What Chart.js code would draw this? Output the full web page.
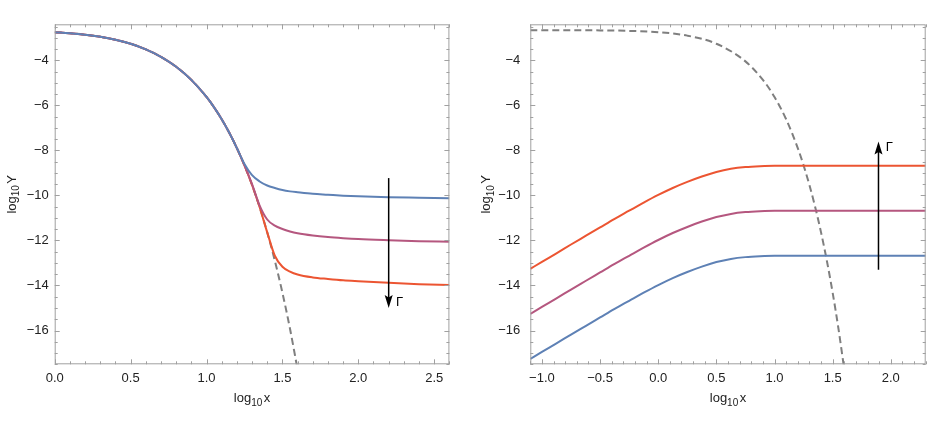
<!DOCTYPE html>
<html>
<head>
<meta charset="utf-8">
<script src="https://cdn.jsdelivr.net/npm/chart.js@4.4.0/dist/chart.umd.min.js"></script>
<style>
html, body { margin: 0; padding: 0; background: #fff; }
#wrap { width: 944px; height: 423px; display: flex; }
.box { width: 472px; height: 423px; }
</style>
</head>
<body>
<div id="wrap">
  <div class="box"><canvas id="left" width="472" height="423"></canvas></div>
  <div class="box"><canvas id="right" width="472" height="423"></canvas></div>
</div>
<script>
// ---- left panel: log10 x vs log10 Y ----
var leftX = [0, 0.1, 0.2, 0.3, 0.4, 0.5, 0.6, 0.7, 0.8, 0.9, 1.0, 1.05, 1.1, 1.15, 1.2, 1.25,
             1.3, 1.35, 1.4, 1.45, 1.5, 1.55, 1.6, 1.7, 1.8, 1.9, 2.0, 2.2, 2.4, 2.6];
var leftEq = [-2.750, -2.795, -2.860, -2.953, -3.084, -3.264, -3.511, -3.842, -4.284, -4.867,
              -5.628, -6.091, -6.618, -7.217, -7.896, -8.665, -9.538, -10.525, -11.640,
              -12.900, -14.321, -15.924, -17.732];
var leftBlue = [-2.750, -2.795, -2.860, -2.953, -3.084, -3.264, -3.511, -3.842, -4.284, -4.867,
                -5.628, -6.091, -6.618, -7.217, -7.896, -8.60, -9.10, -9.38, -9.56, -9.67,
                -9.76, -9.82, -9.86, -9.93, -9.97, -10.01, -10.04, -10.08, -10.10, -10.12];
var leftPurple = [-2.750, -2.795, -2.860, -2.953, -3.084, -3.264, -3.511, -3.842, -4.284, -4.867,
                  -5.628, -6.091, -6.618, -7.217, -7.896, -8.665, -9.50, -10.45, -11.07, -11.34,
                  -11.49, -11.60, -11.68, -11.78, -11.85, -11.90, -11.94, -11.99, -12.03, -12.06];
var leftRed = [-2.750, -2.795, -2.860, -2.953, -3.084, -3.264, -3.511, -3.842, -4.284, -4.867,
               -5.628, -6.091, -6.618, -7.217, -7.896, -8.665, -9.538, -10.525, -11.640, -12.68,
               -13.17, -13.38, -13.51, -13.64, -13.71, -13.77, -13.81, -13.88, -13.94, -13.98];

// ---- right panel ----
var rightX = [-1.1, -1.0, -0.875, -0.75, -0.625, -0.5, -0.375, -0.25, -0.125, 0, 0.125, 0.25,
              0.375, 0.5, 0.625, 0.75, 0.875, 1.0, 1.25, 1.5, 2.0, 2.3];
var rightBlue = [-17.26, -16.95, -16.57, -16.18, -15.80, -15.42, -15.04, -14.68, -14.32, -13.98,
                 -13.67, -13.40, -13.16, -12.96, -12.82, -12.74, -12.70, -12.68, -12.68, -12.68,
                 -12.68, -12.68];
var rightPurple = [-15.26, -14.95, -14.57, -14.18, -13.80, -13.42, -13.04, -12.68, -12.32, -11.98,
                   -11.67, -11.40, -11.16, -10.96, -10.82, -10.74, -10.70, -10.68, -10.68, -10.68,
                   -10.68, -10.68];
var rightRed = [-13.26, -12.95, -12.57, -12.18, -11.80, -11.42, -11.04, -10.68, -10.32, -9.98,
                -9.67, -9.40, -9.16, -8.96, -8.82, -8.74, -8.70, -8.68, -8.68, -8.68,
                -8.68, -8.68];
var rightEqX = [-1.1, -0.75, -0.5, -0.25, 0, 0.25, 0.5, 0.75, 0.9, 1.0, 1.1, 1.2, 1.25, 1.3,
                1.35, 1.4, 1.45, 1.5, 1.55, 1.6];
var rightEq = [-2.661, -2.663, -2.670, -2.692, -2.750, -2.903, -3.264, -4.047, -4.867, -5.628,
               -6.618, -7.896, -8.665, -9.538, -10.525, -11.640, -12.900, -14.321, -15.924, -17.732];

// arrows with the Gamma label (data coordinates)
var leftArrow = { x: 2.2, from: -9.23, to: -15.0, labelX: 2.248, labelY: -14.73 };
var rightArrow = { x: 1.894, from: -13.3, to: -7.61, labelX: 1.957, labelY: -7.85 };

var BLUE = '#5e81b5', PURPLE = '#b5577f', RED = '#ec5532', GREY = '#7f7f7f';
var FONT = '"Liberation Sans", Arial, "DejaVu Sans", sans-serif';

function pts(xs, ys) {
  return ys.map(function (y, i) { return { x: xs[i], y: y }; });
}
function minus(v, digits) {
  var s = digits ? Math.abs(v).toFixed(digits) : String(Math.abs(v));
  return (v < -1e-9 ? '\u2212' : '') + s;
}
function stepValues(min, max, step) {
  var out = [];
  for (var k = Math.ceil(min / step - 1e-9); k * step <= max + 1e-9; k++) out.push(k * step);
  return out;
}

var framePlugin = {
  id: 'frame',
  afterDatasetsDraw: function (chart) {
    var ctx = chart.ctx, a = chart.chartArea, xs = chart.scales.x, ys = chart.scales.y;
    ctx.save();
    ctx.strokeStyle = '#a0a0a0';
    ctx.lineWidth = 1;
    ctx.strokeRect(a.left + 0.5, a.top + 0.5, a.right - a.left - 1, a.bottom - a.top - 1);
    ctx.beginPath();
    stepValues(xs.min, xs.max, 0.1).forEach(function (v) {
      var p = Math.round(xs.getPixelForValue(v)) + 0.5;
      var len = Math.abs(v / 0.5 - Math.round(v / 0.5)) < 1e-6 ? 5 : 3;
      ctx.moveTo(p, a.bottom); ctx.lineTo(p, a.bottom - len);
      ctx.moveTo(p, a.top); ctx.lineTo(p, a.top + len);
    });
    stepValues(ys.min, ys.max, 0.5).forEach(function (v) {
      var p = Math.round(ys.getPixelForValue(v)) + 0.5;
      var len = Math.abs(v / 2 - Math.round(v / 2)) < 1e-6 ? 5 : 3;
      ctx.moveTo(a.left, p); ctx.lineTo(a.left + len, p);
      ctx.moveTo(a.right, p); ctx.lineTo(a.right - len, p);
    });
    ctx.stroke();
    ctx.restore();
  }
};

var arrowPlugin = {
  id: 'gammaArrow',
  afterDatasetsDraw: function (chart, args, o) {
    if (!o || o.x === undefined) return;
    var ctx = chart.ctx, xs = chart.scales.x, ys = chart.scales.y;
    var px = xs.getPixelForValue(o.x);
    var p0 = ys.getPixelForValue(o.from), p1 = ys.getPixelForValue(o.to);
    var dir = p1 > p0 ? 1 : -1, head = 13, half = 4;
    ctx.save();
    ctx.strokeStyle = '#000';
    ctx.fillStyle = '#000';
    ctx.lineWidth = 1.5;
    ctx.beginPath();
    ctx.moveTo(px, p0);
    ctx.lineTo(px, p1 - dir * head * 0.7);
    ctx.stroke();
    ctx.beginPath();
    ctx.moveTo(px, p1);
    ctx.lineTo(px - half, p1 - dir * head);
    ctx.lineTo(px, p1 - dir * head * 0.8);
    ctx.lineTo(px + half, p1 - dir * head);
    ctx.closePath();
    ctx.fill();
    ctx.font = '13px ' + FONT;
    ctx.textAlign = 'left';
    ctx.textBaseline = 'middle';
    ctx.fillText('\u0393', xs.getPixelForValue(o.labelX), ys.getPixelForValue(o.labelY));
    ctx.restore();
  }
};

// "log" + subscript "10" + variable, centred on (cx, base) along the baseline
function logLabel(ctx, cx, base, rot, variable) {
  var big = '13px ' + FONT, small = '10px ' + FONT;
  ctx.save();
  ctx.translate(cx, base);
  ctx.rotate(rot);
  ctx.fillStyle = '#222';
  ctx.textBaseline = 'alphabetic';
  ctx.textAlign = 'left';
  ctx.font = big; var w1 = ctx.measureText('log').width, w3 = ctx.measureText(variable).width;
  ctx.font = small; var w2 = ctx.measureText('10').width;
  var x = -(w1 + w2 + 1.5 + w3) / 2;
  ctx.font = big; ctx.fillText('log', x, 0);
  ctx.font = small; ctx.fillText('10', x + w1, 3.5);
  ctx.font = big; ctx.fillText(variable, x + w1 + w2 + 1.5, 0);
  ctx.restore();
}

var titlePlugin = {
  id: 'axisTitles',
  afterDraw: function (chart, args, o) {
    var a = chart.chartArea;
    logLabel(chart.ctx, (a.left + a.right) / 2, 402, 0, 'x');
    logLabel(chart.ctx, o.yBase, (a.top + a.bottom) / 2, -Math.PI / 2, 'Y');
  }
};

function makeChart(id, datasets, xMin, xMax, yWidth, padRight, yBase, yTickPad, arrow) {
  return new Chart(document.getElementById(id), {
    type: 'line',
    data: { datasets: datasets },
    options: {
      responsive: false,
      animation: false,
      events: [],
      layout: { padding: { left: 0, right: padRight, top: 24.3, bottom: 0 } },
      elements: { point: { radius: 0 }, line: { cubicInterpolationMode: 'monotone', borderWidth: 2 } },
      plugins: { legend: { display: false }, tooltip: { enabled: false },
                 gammaArrow: arrow, axisTitles: { yBase: yBase } },
      scales: {
        x: {
          type: 'linear', min: xMin, max: xMax,
          grid: { display: false, drawTicks: false }, border: { display: false },
          ticks: { stepSize: 0.5, includeBounds: false, padding: 6, color: '#222',
                   font: { family: FONT, size: 13 },
                   callback: function (v) { return minus(v, 1); } },
          afterFit: function (s) { s.height = 58.7; }
        },
        y: {
          type: 'linear', min: -17.5, max: -2.4,
          grid: { display: false, drawTicks: false }, border: { display: false },
          ticks: { stepSize: 2, includeBounds: false, padding: yTickPad, color: '#222',
                   font: { family: FONT, size: 13 },
                   callback: function (v) { return minus(v, 0); } },
          afterFit: function (s) { s.width = yWidth; }
        }
      }
    },
    plugins: [framePlugin, arrowPlugin, titlePlugin]
  });
}

function line(xs, ys, color, dashed) {
  return { data: pts(xs, ys), borderColor: color, borderWidth: 2,
           borderDash: dashed ? [7, 4] : [], fill: false };
}

makeChart('left', [
  line(leftX, leftBlue, BLUE),
  line(leftX, leftPurple, PURPLE),
  line(leftX, leftRed, RED),
  line(leftX, leftEq, GREY, true)
], 0, 2.6, 54.7, 22.6, 15.5, 6, leftArrow);

makeChart('right', [
  line(rightX, rightBlue, BLUE),
  line(rightX, rightPurple, PURPLE),
  line(rightX, rightRed, RED),
  line(rightEqX, rightEq, GREY, true)
], -1.1, 2.3, 58.3, 18.3, 18, 10, rightArrow);
</script>
</body>
</html>
